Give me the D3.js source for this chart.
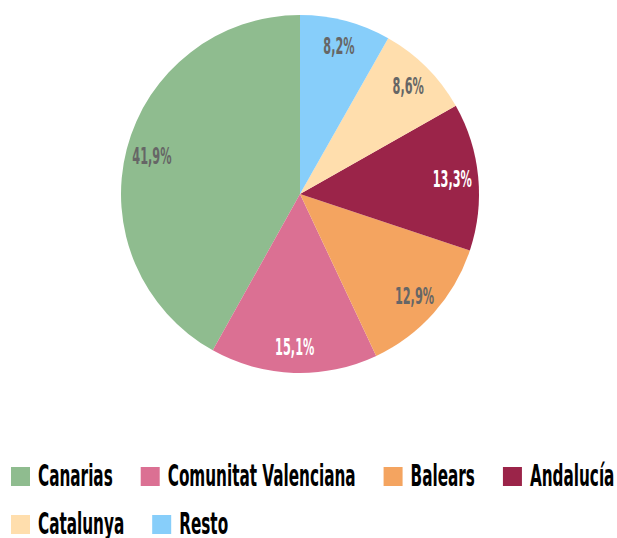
<!DOCTYPE html>
<html>
<head>
<meta charset="utf-8">
<script src="https://cdn.jsdelivr.net/npm/d3@7"></script>
<style>
  body { margin: 0; background: #fff; }
  text { font-family: "Liberation Sans Narrow", "DejaVu Sans Condensed", sans-serif; font-weight: bold; }
</style>
</head>
<body>
<script>
// data
let regions = ["Canarias", "Comunitat Valenciana", "Balears", "Andalucía", "Catalunya", "Resto"];
let shares = [41.9, 15.1, 12.9, 13.3, 8.6, 8.2];
let colors = ["#8fbc8f", "#db7093", "#f4a460", "#9b2449", "#ffdead", "#87cefa"];
let labelColors = ["#666666", "#ffffff", "#666666", "#ffffff", "#666666", "#666666"];

let width = 617, height = 538,
    cx = 300, cy = 194, radius = 179;

let data = regions.map(function(r, i) { return {name: r, value: shares[i], color: colors[i], lc: labelColors[i]}; });

let svg = d3.select("body").append("svg")
    .attr("width", width)
    .attr("height", height);

// the reference uses a very condensed face: measure ours and squeeze to fit
let probe = svg.append("text").attr("font-size", 31).text("Comunitat Valenciana");
let squeeze = 188 / probe.node().getComputedTextLength();
probe.remove();

let g = svg.append("g")
    .attr("transform", "translate(" + cx + "," + cy + ")");

// counterclockwise from 12 o'clock
let pie = d3.pie()
    .sort(null)
    .value(function(d) { return d.value; })
    .startAngle(0)
    .endAngle(-2 * Math.PI);

let arc = d3.arc().innerRadius(0).outerRadius(radius);
let labelArc = d3.arc().innerRadius(radius * 0.855).outerRadius(radius * 0.855);

let arcs = pie(data);

g.selectAll(".slice")
    .data(arcs)
    .enter().append("path")
    .attr("class", "slice")
    .attr("d", arc)
    .attr("fill", function(d) { return d.data.color; });

g.selectAll(".lbl")
    .data(arcs)
    .enter().append("g")
    .attr("transform", function(d) {
        let c = labelArc.centroid(d);
        return "translate(" + c[0] + "," + c[1] + ") scale(" + squeeze + ",1)";
    })
    .append("text")
    .attr("class", "lbl")
    .attr("text-anchor", "middle")
    .attr("dy", "0.36em")
    .attr("font-size", 23)
    .attr("fill", function(d) { return d.data.lc; })
    .text(function(d) { return d3.format(".1f")(d.data.value).replace(".", ",") + "%"; });

// legend, flows into rows
let legend = svg.append("g");
let lx = 11, ly = 467, rowH = 48, sq = 19;
data.forEach(function(d) {
    let item = legend.append("g");
    item.append("rect")
        .attr("width", sq).attr("height", sq)
        .attr("fill", d.color);
    let t = item.append("g")
        .attr("transform", "translate(" + (sq + 8) + ",0) scale(" + squeeze + ",1)")
        .append("text")
        .attr("y", 19)
        .attr("font-size", 31)
        .attr("fill", "#000")
        .text(d.name);
    let w = sq + 8 + t.node().getComputedTextLength() * squeeze;
    if (lx + w > width - 2) { lx = 11; ly += rowH; }
    item.attr("transform", "translate(" + lx + "," + ly + ")");
    lx += w + 28;
});
</script>
</body>
</html>
